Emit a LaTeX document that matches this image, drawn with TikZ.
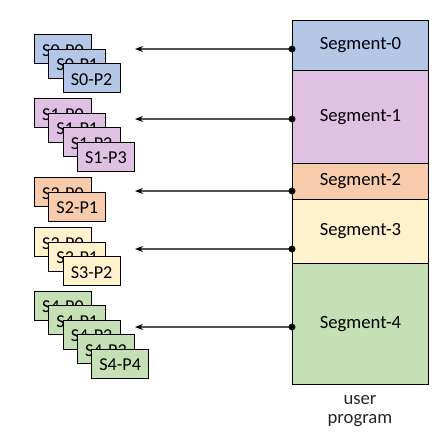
\documentclass[tikz,border=0pt]{standalone}
\usepackage{fontspec}
\setmainfont{Carlito}
\usetikzlibrary{arrows.meta}
\definecolor{cblue}{HTML}{B4C7E7}
\definecolor{cpink}{HTML}{E1C1E3}
\definecolor{corange}{HTML}{F8CBAD}
\definecolor{cyellow}{HTML}{FFF2CC}
\definecolor{cgreen}{HTML}{C5E0B4}
\definecolor{lgray}{HTML}{505050}
\begin{document}
\begin{tikzpicture}[x=0.75pt,y=-0.75pt,
  pbox/.style={draw=black, line width=0.75pt, minimum width=42.75pt, minimum height=21.75pt, inner sep=0pt, text height=10.8pt, text depth=0pt, font=\fontsize{13.6}{15}\selectfont},
  seg/.style={draw=black, line width=0.75pt, minimum width=102pt, inner sep=0pt, anchor=north west, font=\fontsize{14}{16}\selectfont},
  ptr/.style={draw=lgray, line width=1.1pt, -{Stealth[black,length=6pt,width=4.5pt]}},
  dotm/.style={fill=black}]
\useasboundingbox (0,0) rectangle (447,443);
% segments
\node[seg, fill=cblue, minimum height=37.5pt] (s0) at (292,20) {Segment-0};
\node[seg, fill=cpink, minimum height=69.75pt] (s1) at (292,70) {Segment-1};
\node[seg, fill=corange, minimum height=27pt] (s2) at (292,163) {Segment-2};
\node[seg, fill=cyellow, minimum height=48pt] (s3) at (292,199) {Segment-3};
\node[seg, fill=cgreen, minimum height=90.75pt] (s4) at (292,263) {Segment-4};
\node[font=\fontsize{14}{14}\selectfont, align=center, text=black!85] (up) at (360,411) {user\\program};
% page boxes
\node[pbox, fill=cblue] (p00) at (63,49) {S0-P0};
\node[pbox, fill=cblue] (p01) at (77.3,63.5) {S0-P1};
\node[pbox, fill=cblue] (p02) at (91.6,78) {S0-P2};
\node[pbox, fill=cpink] (p10) at (63,113) {S1-P0};
\node[pbox, fill=cpink] (p11) at (77.3,127.5) {S1-P1};
\node[pbox, fill=cpink] (p12) at (91.6,142) {S1-P2};
\node[pbox, fill=cpink] (p13) at (105.9,156.5) {S1-P3};
\node[pbox, fill=corange] (p20) at (63,192) {S2-P0};
\node[pbox, fill=corange] (p21) at (77.3,206.5) {S2-P1};
\node[pbox, fill=cyellow] (p30) at (63,242) {S3-P0};
\node[pbox, fill=cyellow] (p31) at (77.3,256.5) {S3-P1};
\node[pbox, fill=cyellow] (p32) at (91.6,271) {S3-P2};
\node[pbox, fill=cgreen] (p40) at (63,305.5) {S4-P0};
\node[pbox, fill=cgreen] (p41) at (77.3,320) {S4-P1};
\node[pbox, fill=cgreen] (p42) at (91.6,334.5) {S4-P2};
\node[pbox, fill=cgreen] (p43) at (105.9,349) {S4-P3};
\node[pbox, fill=cgreen] (p44) at (120.2,363.5) {S4-P4};
% pointers
\coordinate (d0) at (292,49);  \coordinate (a0) at (135,49);
\coordinate (d1) at (292,119); \coordinate (a1) at (135,119);
\coordinate (d2) at (292,191); \coordinate (a2) at (135,191);
\coordinate (d3) at (292,249); \coordinate (a3) at (135,249);
\coordinate (d4) at (292,327); \coordinate (a4) at (135,327);
\foreach \i in {0,...,4}{
  \draw[ptr] (d\i) -- (a\i);
  \fill[dotm] (d\i) circle (2.6pt);
}
\end{tikzpicture}
\end{document}
